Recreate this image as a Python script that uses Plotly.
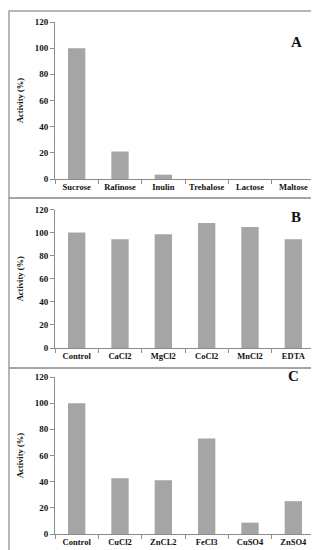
import plotly.graph_objects as go

W, H = 319, 550

cats_a = ["Sucrose", "Rafinose", "Inulin", "Trehalose", "Lactose", "Maltose"]
vals_a = [100, 21, 3.3, 0, 0, 0]

cats_b = ["Control", "CaCl2", "MgCl2", "CoCl2", "MnCl2", "EDTA"]
vals_b = [100, 94.3, 98.6, 108.3, 104.9, 94.3]

cats_c = ["Control", "CuCl2", "ZnCL2", "FeCl3", "CuSO4", "ZnSO4"]
vals_c = [100, 42.7, 41, 72.9, 8.7, 25.1]

panel_labels = ["A", "B", "C"]
y_ticks = [0, 20, 40, 60, 80, 100, 120]

BAR = "#a5a5a5"
AXC = "#8c8c8c"
FONT = "Liberation Serif"

def py(pix):
    return (H - pix) / H

def px(pix):
    return pix / W

# pixel geometry: (zero y, top y, border top, border bottom)
panels = [
    (171, 14, 3, 190),
    (340, 201.5, 190, 360),
    (526, 369, 360, 546),
]
letter_pos = [(296, 24), (295, 209), (293, 378)]

fig = go.Figure()
data = [(cats_a, vals_a), (cats_b, vals_b), (cats_c, vals_c)]
for i, (cats, vals) in enumerate(data):
    n = "" if i == 0 else str(i + 1)
    fig.add_trace(go.Bar(x=cats, y=vals, marker_color=BAR, marker_line_width=0,
                         xaxis="x" + n, yaxis="y" + n, showlegend=False))
    z, t, bt, bb = panels[i]
    fig.layout["xaxis" + n] = dict(
        domain=[px(47), px(307)], anchor="y" + n, showline=True, linecolor=AXC,
        linewidth=1, ticks="outside", tickson="boundaries", ticklen=4, tickcolor=AXC,
        tickangle=0, automargin=False,
        tickfont=dict(family=FONT, size=8.5, color="#111", weight="bold"),
        showgrid=False, fixedrange=True)
    fig.layout["yaxis" + n] = dict(
        domain=[py(z), py(t)], anchor="x" + n, range=[0, 120], tickvals=y_ticks,
        showline=True, linecolor=AXC, linewidth=1, ticks="outside", ticklen=4,
        tickcolor=AXC, showgrid=False, zeroline=False, automargin=False,
        tickfont=dict(family=FONT, size=9, color="#111", weight="bold"),
        title=dict(text="Activity (%)", standoff=9,
                   font=dict(family=FONT, size=8.5, color="#111", weight="bold")),
        fixedrange=True)
    fig.add_shape(type="rect", xref="paper", yref="paper",
                  x0=px(1), x1=px(313), y0=py(bb), y1=py(bt),
                  line=dict(color="#a0a0a0", width=1.5))
    lx, ly = letter_pos[i]
    fig.add_annotation(x=px(lx), y=py(ly), xref="paper", yref="paper",
                       text=panel_labels[i], showarrow=False,
                       font=dict(family=FONT, size=15, color="#111", weight="bold"))

fig.update_layout(width=W, height=H, margin=dict(l=0, r=0, t=0, b=0),
                  paper_bgcolor="white", plot_bgcolor="white", bargap=0.6)
fig.write_html("out.html")
